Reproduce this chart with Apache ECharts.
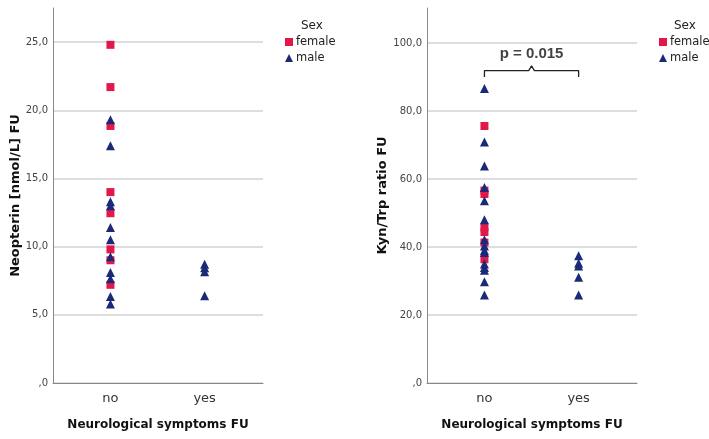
<!DOCTYPE html>
<html>
<head>
<meta charset="utf-8">
<script src="https://cdn.jsdelivr.net/npm/echarts@6/dist/echarts.min.js"></script>
<style>
  html, body { margin: 0; padding: 0; background: #fff; }
  #chart { width: 709px; height: 439px; }
</style>
</head>
<body>
<div id="chart"></div>
<script>
// categories on the x axis (0 = no, 1 = yes)
const categories = ["no", "yes"];

// Neopterin [nmol/L] FU
const neoFemaleNo = [24.8, 21.7, 18.85, 14.0, 12.45, 9.8, 9.0, 7.2];
const neoMaleNo = [19.3, 17.4, 13.3, 13.0, 11.4, 10.5, 9.25, 8.1, 7.65, 6.35, 5.8];
const neoMaleYes = [8.7, 8.45, 8.15, 6.4];
const neoTicks = [0, 5, 10, 15, 20, 25];

// Kyn/Trp ratio FU
const kynFemaleNo = [75.6, 56.6, 55.6, 45.8, 44.4, 41.3, 36.4];
const kynMaleNo = [86.6, 70.9, 63.8, 57.5, 53.6, 48.0, 42.1, 40.3, 39.0, 38.4, 35.0, 34.0, 33.2, 29.8, 25.9];
const kynMaleYes = [37.4, 35.2, 34.4, 31.1, 25.9];
const kynTicks = [0, 20, 40, 60, 80, 100];

// significance bracket between "no" and "yes"
const bracketX = [0, 0, 0.47, 0.5, 0.53, 1, 1];
const bracketY = [90.0, 91.9, 91.9, 93.3, 91.9, 91.9, 90.0];
const pLabel = "p = 0.015";

const red = "#e2184b";
const blue = "#1b2a78";
const font = "DejaVu Sans";

function pts(col, vals) {
  return vals.map(function (v) { return [col, v]; });
}

function fmt(v) {
  if (v === 0) return ",0";
  return v.toFixed(1).replace(".", ",");
}

function xAxisFor(gridIndex) {
  return {
    gridIndex: gridIndex,
    type: "value",
    min: -0.61,
    max: 1.62,
    name: "Neurological symptoms FU",
    nameLocation: "middle",
    nameGap: 36,
    nameTextStyle: { fontFamily: font, fontWeight: "bold", fontSize: 12, color: "#111" },
    axisLine: { show: true, onZero: false, lineStyle: { color: "#888", width: 1 } },
    axisTick: { show: false },
    splitLine: { show: false },
    axisLabel: {
      customValues: [0, 1],
      formatter: function (v) { return categories[Math.round(v)]; },
      fontFamily: font, fontSize: 13, color: "#333", margin: 9,
    },
  };
}

function yAxisFor(gridIndex, max, ticks, name, gap) {
  return {
    gridIndex: gridIndex,
    type: "value",
    min: 0,
    max: max,
    name: name,
    nameLocation: "middle",
    nameGap: gap,
    nameTextStyle: { fontFamily: font, fontWeight: "bold", fontSize: 13, color: "#111" },
    axisLine: { show: true, onZero: false, lineStyle: { color: "#888", width: 1 } },
    axisTick: { show: false, customValues: ticks },
    splitLine: { show: true, lineStyle: { color: "#d3d3d3", width: 1.5 } },
    axisLabel: {
      customValues: ticks,
      formatter: fmt,
      fontFamily: font, fontSize: 10, color: "#444", margin: 5,
    },
  };
}

function scatter(name, gi, data, color, symbol, size, z) {
  return {
    name: name,
    type: "scatter",
    xAxisIndex: gi,
    yAxisIndex: gi,
    data: data,
    symbol: symbol,
    symbolSize: size,
    itemStyle: { color: color, opacity: 1 },
    z: z,
  };
}

function legendFor(left) {
  return {
    orient: "vertical",
    left: left,
    top: 31,
    itemWidth: 8,
    itemHeight: 8,
    itemGap: 4,
    textStyle: { fontFamily: font, fontSize: 11.5, color: "#222", padding: [0, 0, 0, -2] },
    data: [
      { name: "female", icon: "rect" },
      { name: "male", icon: "triangle" },
    ],
    selectedMode: false,
  };
}

var myChart = echarts.init(document.getElementById("chart"));

var option = {
  animation: false,
  backgroundColor: "#fff",
  title: [
    { text: "Sex", left: 296, top: 15, textStyle: { fontFamily: font, fontSize: 12, fontWeight: "normal", color: "#222" } },
    { text: "Sex", left: 669, top: 15, textStyle: { fontFamily: font, fontSize: 12, fontWeight: "normal", color: "#222" } },
  ],
  legend: [legendFor(280), legendFor(654)],
  grid: [
    { left: 53, top: 8, width: 210, bottom: 56 },
    { left: 427, top: 8, width: 210, bottom: 56 },
  ],
  xAxis: [xAxisFor(0), xAxisFor(1)],
  yAxis: [
    yAxisFor(0, 27.5, neoTicks, "Neopterin [nmol/L] FU", 30),
    yAxisFor(1, 110.3, kynTicks, "Kyn/Trp ratio FU", 38),
  ],
  series: [
    scatter("female", 0, pts(0, neoFemaleNo), red, "rect", 8, 2),
    scatter("male", 0, pts(0, neoMaleNo).concat(pts(1, neoMaleYes)), blue, "triangle", 9, 3),
    scatter("female", 1, pts(0, kynFemaleNo), red, "rect", 8, 2),
    scatter("male", 1, pts(0, kynMaleNo).concat(pts(1, kynMaleYes)), blue, "triangle", 9, 3),
    {
      type: "line",
      xAxisIndex: 1,
      yAxisIndex: 1,
      symbol: "none",
      lineStyle: { color: "#222", width: 1.3 },
      data: bracketX.map(function (x, i) { return [x, bracketY[i]]; }),
      z: 1,
      silent: true,
    },
    {
      type: "scatter",
      xAxisIndex: 1,
      yAxisIndex: 1,
      symbolSize: 0,
      data: [[bracketX[3], bracketY[3]]],
      label: {
        show: true,
        position: "top",
        distance: 4,
        formatter: pLabel,
        fontFamily: "Liberation Sans",
        fontWeight: "bold",
        fontSize: 15,
        color: "#111",
      },
      silent: true,
    },
  ],
};

option && myChart.setOption(option);
</script>
</body>
</html>
